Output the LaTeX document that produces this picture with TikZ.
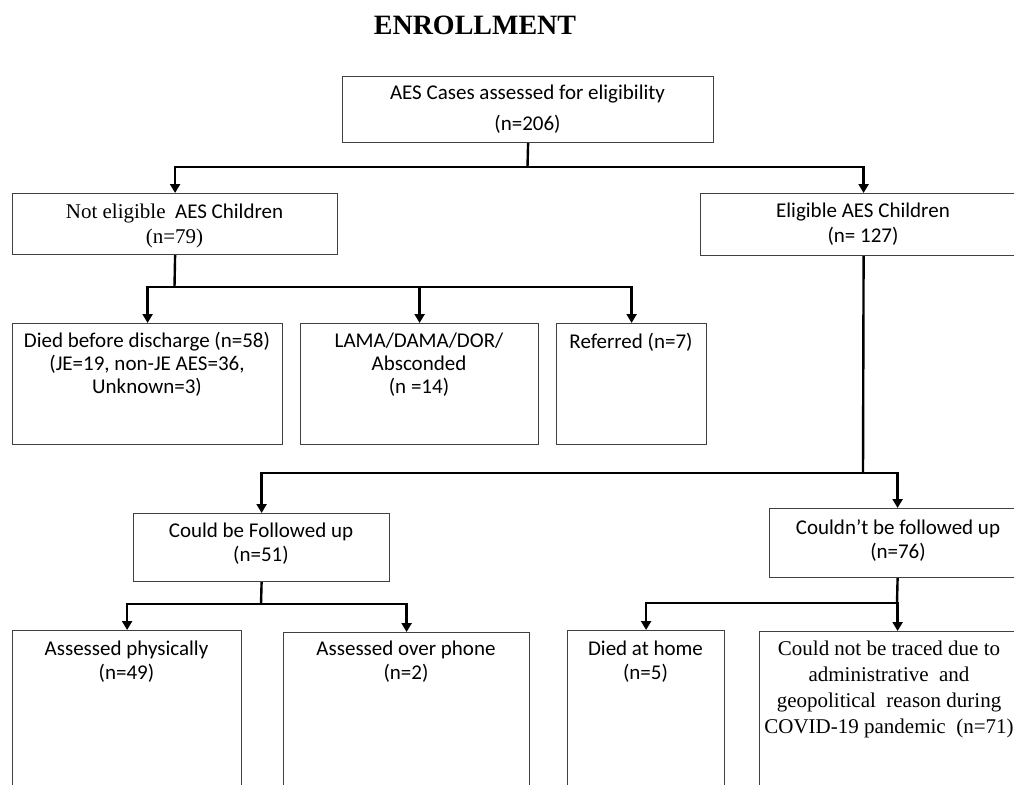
\documentclass[tikz,border=0pt]{standalone}
\usepackage{fontspec}
\setmainfont{Carlito}
\newfontfamily\tms{Liberation Serif}
\usetikzlibrary{arrows.meta}
\tikzset{
  box/.style={draw=black!75, line width=1.2pt, anchor=north west, inner sep=0pt},
  txt/.style={anchor=north, inner sep=0pt, align=center, font=\fontsize{21}{24}\selectfont},
  conn/.style={line width=2.4pt, black},
  arr/.style={conn, -{Triangle[width=10pt,length=9pt]}}
}
\begin{document}
\begin{tikzpicture}[x=1pt,y=-1pt]
\useasboundingbox (0,0) rectangle (1014,784);
\clip (0,0) rectangle (1014,784);
\fill[white] (0,0) rectangle (1014,784);

% title
\node[font=\tms\bfseries\fontsize{28}{30}\selectfont, anchor=base, inner sep=0pt] (title) at (475,35) {ENROLLMENT};

% boxes
\node[box, minimum width=371pt, minimum height=66pt] (b0) at (342,76) {};
\node[box, minimum width=325pt, minimum height=61pt] (ne) at (12,193) {};
\node[box, minimum width=326pt, minimum height=62pt] (el) at (700,193) {};
\node[box, minimum width=270pt, minimum height=121pt] (died) at (12,323) {};
\node[box, minimum width=238pt, minimum height=121pt] (lama) at (300,323) {};
\node[box, minimum width=150pt, minimum height=121pt] (ref) at (556,323) {};
\node[box, minimum width=256pt, minimum height=68pt] (cbf) at (133,513) {};
\node[box, minimum width=256pt, minimum height=69pt] (cnf) at (769,508) {};
\node[box, minimum width=229pt, minimum height=170pt] (phys) at (12,630) {};
\node[box, minimum width=246pt, minimum height=168pt] (phone) at (283,632) {};
\node[box, minimum width=157pt, minimum height=170pt] (home) at (567,630) {};
\node[box, minimum width=276pt, minimum height=169pt] (trace) at (759,631) {};

% texts
\node[txt, font=\fontsize{21}{31}\selectfont] (t0) at (527.5,77.3) {\strut AES Cases assessed for eligibility\\(n=206)};
\node[txt, font=\fontsize{21}{25}\selectfont] (t1) at (174.5,200.5) {\strut{\tms Not eligible}\ \ AES Children\\{\tms (n=79)}};
\node[txt, font=\fontsize{21}{25}\selectfont] (t2) at (863,199.5) {\strut Eligible AES Children\\(n= 127)};
\node[txt, font=\fontsize{21}{23}\selectfont] (t3) at (147,330.9) {\strut Died before discharge (n=58)\\(JE=19, non-JE AES=36,\\Unknown=3)};
\node[txt, font=\fontsize{21}{23}\selectfont] (t4) at (419,330.9) {\strut LAMA/DAMA/DOR/\\Absconded\\(n =14)};
\node[txt] (t5) at (631,331.2) {\strut Referred (n=7)};
\node[txt] (t6) at (261,520.2) {\strut Could be Followed up\\(n=51)};
\node[txt] (t7) at (898,517.2) {\strut Couldn’t be followed up\\(n=76)};
\node[txt] (t8) at (126.5,638.2) {\strut Assessed physically\\(n=49)};
\node[txt] (t9) at (406,638.2) {\strut Assessed over phone\\(n=2)};
\node[txt] (t10) at (645.5,638.2) {\strut Died at home\\(n=5)};
\node[txt, font=\tms\fontsize{21}{26}\selectfont] (t11) at (889,636.8) {\strut Could not be traced due to\\administrative\ \ and\\geopolitical\ \ reason during\\COVID-19 pandemic\ \ (n=71)};

% junctions
\coordinate (j0) at (527.5,167);
\coordinate (j1) at (174.5,287);
\coordinate (j2) at (863,473);
\coordinate (j3) at (261,604);
\coordinate (j4) at (897,603);

% connectors
\draw[conn] (b0.south) -- (j0);
\draw[arr] (j0) -| (ne.north);
\draw[arr] (j0) -| (el.north);

\draw[conn] (ne.south) -- (j1);
\draw[arr] (j1) -| (died.north);
\draw[arr] (j1) -| (lama.north);
\draw[arr] (j1) -| (ref.north);

\draw[conn] (el.south) -- (j2);
\draw[arr] (j2) -| (cbf.north);
\draw[arr] (j2) -| (cnf.north);

\draw[conn] (cbf.south) -- (j3);
\draw[arr] (j3) -| (phys.north);
\draw[arr] (j3) -| (phone.north);

\draw[conn] (cnf.south) -- (j4);
\draw[arr] (j4) -| (home.north);
\draw[arr] (j4) -| (trace.north);
\end{tikzpicture}
\end{document}
